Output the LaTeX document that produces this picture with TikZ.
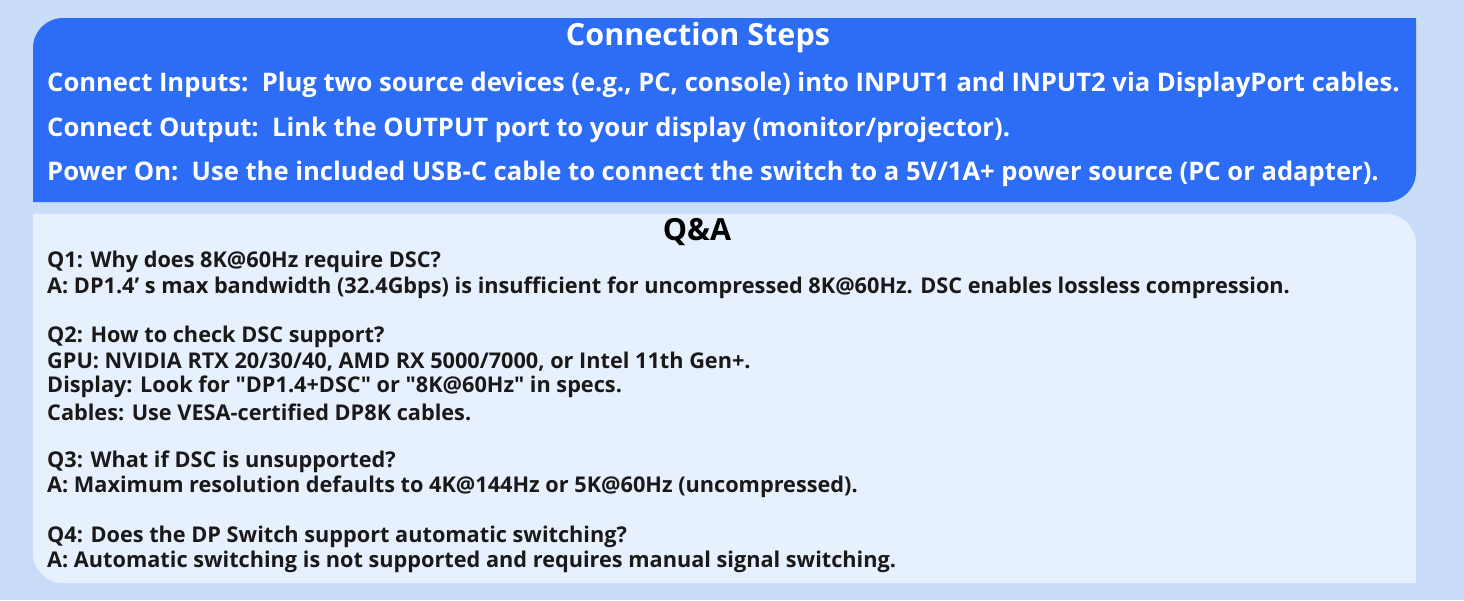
\documentclass[tikz,border=0pt]{standalone}
\usepackage{fontspec}
\setmainfont{Open Sans}
\usetikzlibrary{positioning}
\definecolor{bgblue}{HTML}{C9DDF8}
\definecolor{stepblue}{HTML}{2D6DF6}
\definecolor{qapanel}{HTML}{E7F0FD}
\tikzset{steptitle/.style={text=white,font=\fontsize{30.5}{34}\selectfont\bfseries,inner sep=0pt}, }
\tikzset{stepline/.style={text=white,font=\fontsize{25.6}{29}\selectfont\bfseries,inner sep=0pt,anchor=west}, }
\tikzset{qatitle/.style={text=black,font=\fontsize{30.5}{34}\selectfont\bfseries,inner sep=0pt}, }
\tikzset{qaline/.style={text=black!90,font=\fontsize{21.7}{24}\selectfont\bfseries,inner sep=0pt,anchor=west}, }
\begin{document}
\begin{tikzpicture}[x=1pt,y=-1pt]
  \fill[bgblue] (0,0) rectangle (1464,600);
  \useasboundingbox (0,0) rectangle (1464,600);
  % panels
  \fill[stepblue] (33,202) -- (33,48) arc[start angle=180,end angle=270,radius=30] -- (1416,18) -- (1416,172) arc[start angle=0,end angle=90,radius=30] -- cycle;
  \fill[qapanel] (1416,583) -- (1416,244) arc[start angle=0,end angle=-90,radius=30] -- (33,214) -- (33,553) arc[start angle=180,end angle=90,radius=30] -- cycle;
  % connection steps
  \node[steptitle] (steps) at (698,38) {Connection Steps};
  \node[stepline] (inputs) at (47,85) {Connect Inputs:\ \ Plug two source devices (e.g., PC, console) into INPUT1 and INPUT2 via DisplayPort cables.};
  \node[stepline] (output) at (47,130) {Connect Output:\ \ Link the OUTPUT port to your display (monitor/projector).};
  \node[stepline] (power) at (47,174) {Power On:\ \ Use the included USB-C cable to connect the switch to a 5V/1A+ power source (PC or adapter).};
  % Q&A
  \node[qatitle] (qa) at (697,232) {Q\&A};
  \node[qaline] (q1) at (47,262) {Q1: Why does 8K@60Hz require DSC?};
  \node[qaline] (a1) at (47,288) {A: DP1.4’\ s max bandwidth (32.4Gbps) is insufficient for uncompressed 8K@60Hz. DSC enables lossless compression.};
  \node[qaline] (q2) at (47,337) {Q2: How to check DSC support?};
  \node[qaline] (a2a) at (47,362) {GPU: NVIDIA RTX 20/30/40, AMD RX 5000/7000, or Intel 11th Gen+.};
  \node[qaline] (a2b) at (47,387) {Display: Look for \textquotedbl DP1.4+DSC\textquotedbl\ or \textquotedbl 8K@60Hz\textquotedbl\ in specs.};
  \node[qaline] (a2c) at (47,412) {Cables: Use VESA-certified DP8K cables.};
  \node[qaline] (q3) at (47,462) {Q3: What if DSC is unsupported?};
  \node[qaline] (a3) at (47,487) {A: Maximum resolution defaults to 4K@144Hz or 5K@60Hz (uncompressed).};
  \node[qaline] (q4) at (47,537) {Q4: Does the DP Switch support automatic switching?};
  \node[qaline] (a4) at (47,562) {A: Automatic switching is not supported and requires manual signal switching.};
\end{tikzpicture}
\end{document}
